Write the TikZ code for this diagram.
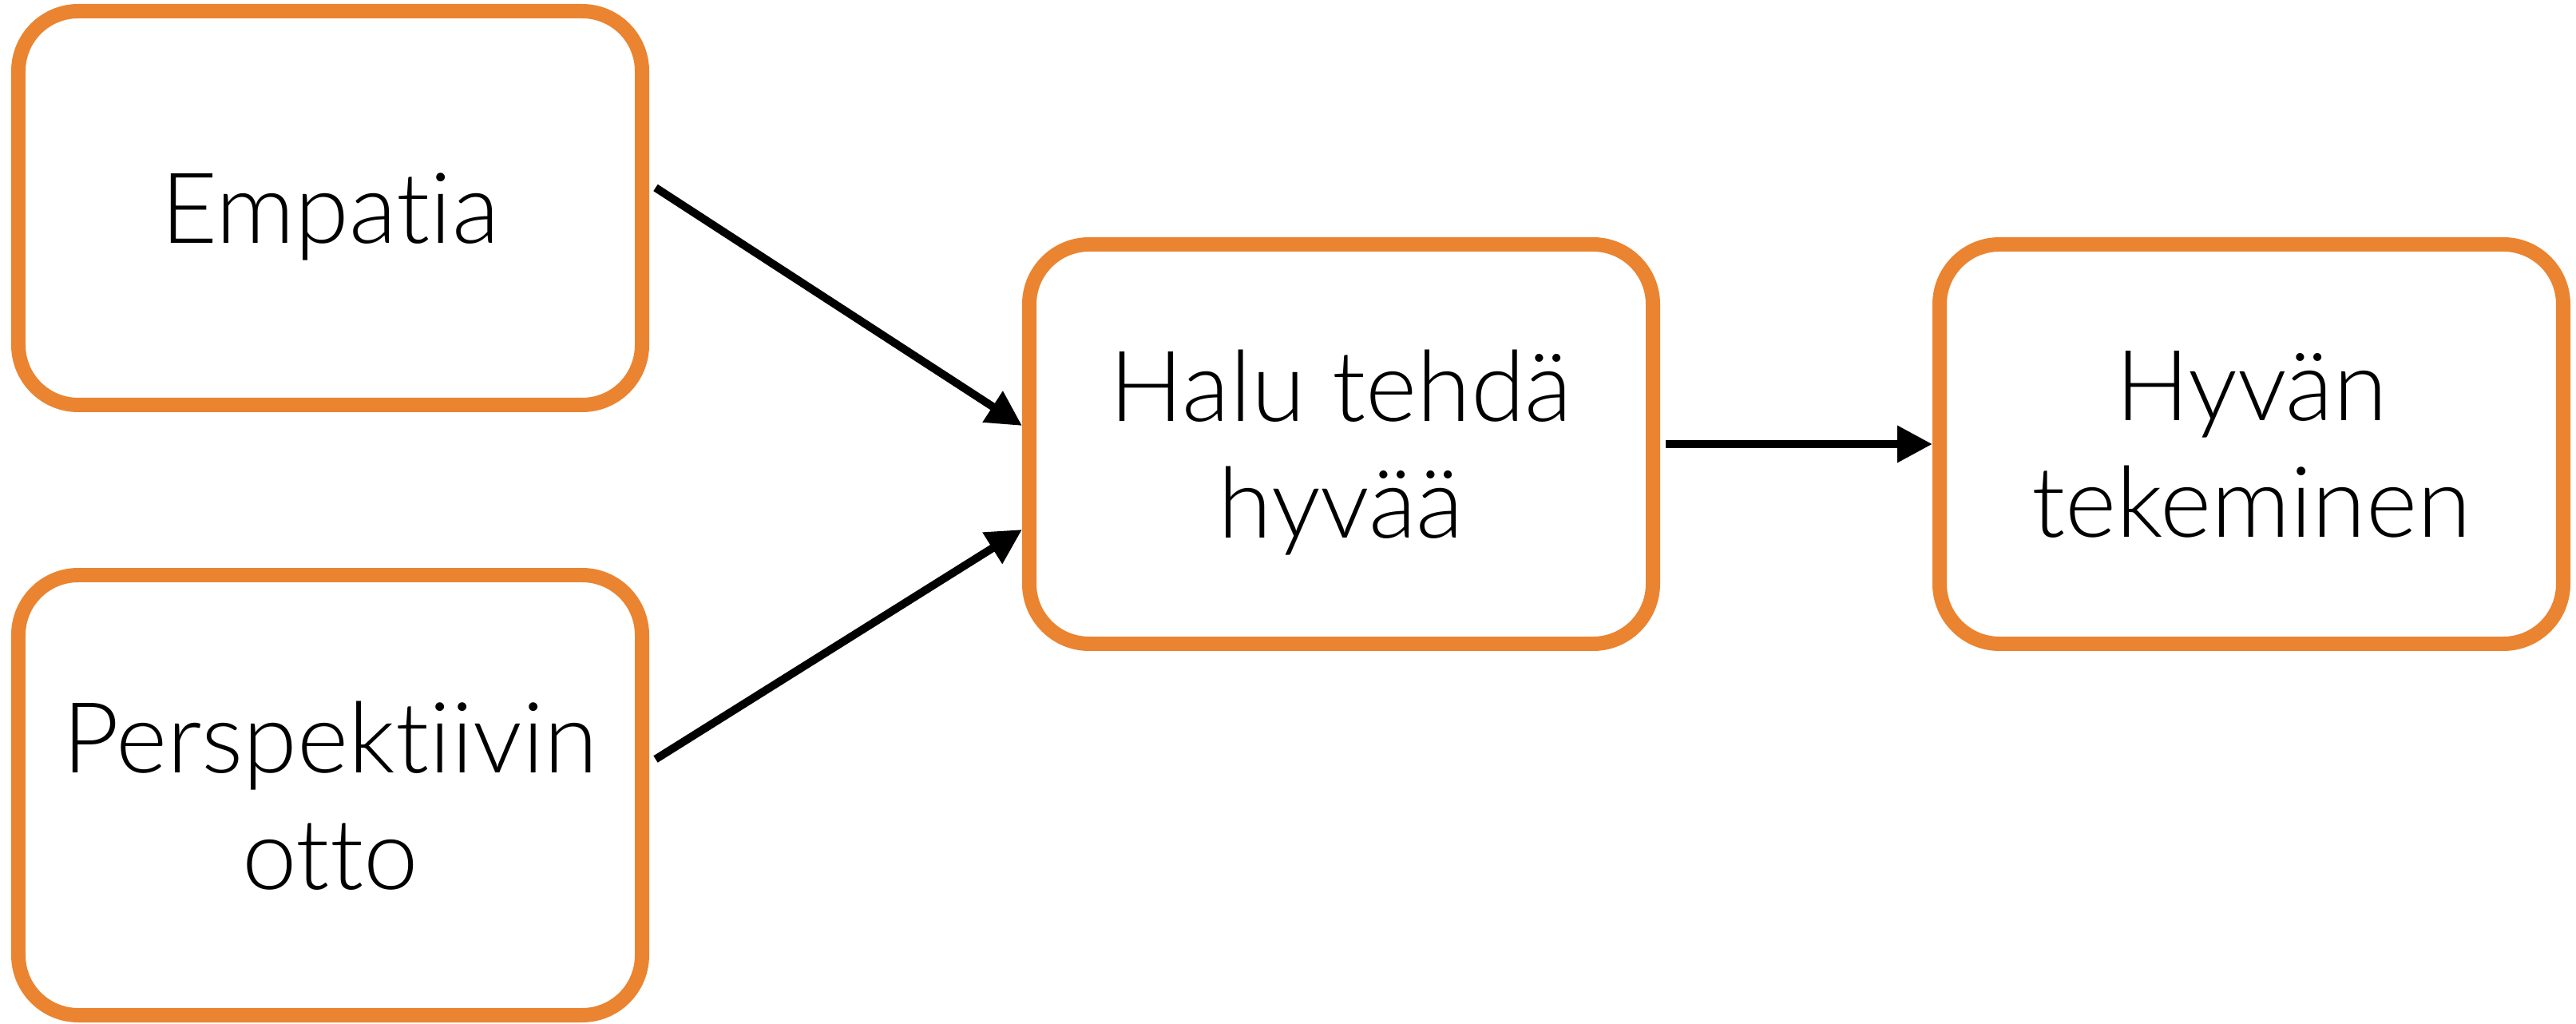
\documentclass[tikz,border=0pt]{standalone}
\usepackage{fontspec}
\setmainfont{Lato Light}[Ligatures={NoCommon}]
\usepackage{xcolor}
\usepackage{tikz}
\usetikzlibrary{shapes, arrows.meta, positioning}
\definecolor{boxorange}{RGB}{234,132,49}

\begin{document}
\begin{tikzpicture}[node distance=1.5cm, auto,
            block/.style={draw=boxorange, line width=0.18cm, rectangle, rounded corners=0.75cm, fill=white, minimum width=7.81cm, minimum height=5cm, align=center, text depth=0pt, font=\fontsize{35}{41.5}\selectfont},
            arrow/.style={-{Triangle[length=0.44cm, width=0.44cm]}, line width=0.1cm}]

            \useasboundingbox (0,0) rectangle (32.26,-12.82);

            \node[block, minimum height=4.93cm] (empatia) at (4.135,-2.605) {Empatia};
            \node[block, below of=empatia, node distance=7.35cm, minimum height=5.51cm] (perspektiivi) {Perspektiivin\\otto};
            \node[block] (halu) at (16.795,-5.56) {Halu tehdä\\hyvää};
            \node[block, right of=halu, node distance=11.4cm] (hyvan) {Hyvän\\tekeminen};

            \draw[arrow] ([xshift=0.08cm, yshift=0.255cm]empatia.east) -- ([yshift=0.23cm]halu.west);
            \draw[arrow] ([xshift=0.08cm, yshift=0.45cm]perspektiivi.east) -- ([yshift=-1.07cm]halu.west);
            \draw[arrow] ([xshift=0.07cm]halu.east) -- (hyvan.west);
        \end{tikzpicture}
\end{document}
